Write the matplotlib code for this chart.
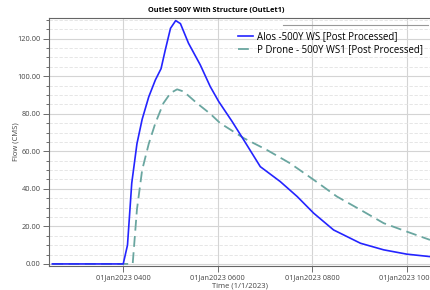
import pandas as pd
import matplotlib
matplotlib.use('Agg')
import matplotlib.pyplot as plt
import matplotlib.dates as mdates
from matplotlib.ticker import MultipleLocator

plt.rcParams['font.family'] = ['Open Sans', 'DejaVu Sans']

# Alos - 500Y WS (hours after midnight, flow CMS)
alos_hours = [2.5, 4.0, 4.09, 4.18, 4.29, 4.40, 4.54, 4.68, 4.80, 4.89, 5.0, 5.11, 5.21,
              5.38, 5.63, 5.84, 6.02, 6.30, 6.55, 6.90, 7.32, 7.68, 8.03, 8.45, 9.02,
              9.51, 10.0, 10.49]
alos_flow = [0, 0, 10, 43, 64, 77, 89, 98, 104, 114, 125.5, 129.6, 128,
             117.6, 106, 94.5, 86.5, 76, 66, 51.8, 43.9, 35.9, 27, 18.1, 11,
             7.5, 5.2, 3.9]

# P Drone - 500Y WS1
drone_hours = [2.5, 4.2, 4.29, 4.40, 4.54, 4.68, 4.85, 5.0, 5.14, 5.28, 5.56, 5.84, 6.05,
               6.55, 7.04, 7.53, 8.03, 8.52, 9.02, 9.51, 10.0, 10.49]
drone_flow = [0, 0, 29, 50, 64, 75, 85.6, 91, 93, 91.8, 85.6, 80, 75,
              67, 60.7, 53.6, 44.8, 35.9, 28.8, 21.7, 17.2, 12.8]

day = pd.Timestamp('2023-01-01')
alos_t = day + pd.to_timedelta(alos_hours, unit='h')
drone_t = day + pd.to_timedelta(drone_hours, unit='h')

fig = plt.figure(figsize=(4.3, 2.9), dpi=100)
ax = fig.add_axes([0.114, 0.083, 0.886, 0.855])

ax.plot(drone_t, drone_flow, color='#6aa6a0', lw=1.3, dashes=(6, 3),
        label='P Drone - 500Y WS1 [Post Processed]')
ax.plot(alos_t, alos_flow, color='#2424ff', lw=1.2,
        label='Alos -500Y WS [Post Processed]')

ax.set_xlim(day + pd.Timedelta(hours=2.43), day + pd.Timedelta(hours=10.49))
ax.set_ylim(-1.07, 131)

ax.xaxis.set_major_locator(mdates.HourLocator(byhour=[4, 6, 8, 10]))
ax.xaxis.set_major_formatter(mdates.DateFormatter('%d%b%Y %H%M'))
ax.yaxis.set_major_locator(MultipleLocator(20))
ax.yaxis.set_minor_locator(MultipleLocator(5))
ax.yaxis.set_major_formatter(lambda v, p: f'{v:.2f}')

ax.grid(True, which='major', color='#d4d4d4', lw=0.8)
ax.grid(True, which='minor', axis='y', color='#e2e2e2', lw=0.6, ls=(0, (4, 2)))
ax.set_axisbelow(True)

ax.tick_params(axis='both', which='major', labelsize=5.3, length=4, width=0.6,
               colors='#555555', labelcolor='#444444', pad=2)
ax.tick_params(axis='y', which='minor', length=2, width=0.6, colors='#555555')
for side in ['left', 'bottom', 'top']:
    ax.spines[side].set_color('#666666')
    ax.spines[side].set_linewidth(0.8)
ax.spines['right'].set_visible(False)

ax.set_title('Outlet 500Y With Structure (OutLet1)', fontsize=5.3, fontweight='bold',
             pad=4, x=0.44)
ax.set_xlabel('Time (1/1/2023)', fontsize=5.5, color='#444444', labelpad=1)
ax.set_ylabel('Flow (CMS)', fontsize=5.5, color='#444444')
ax.yaxis.set_label_coords(-0.078, 0.5)

handles, labels = ax.get_legend_handles_labels()
leg = fig.legend(handles[::-1], labels[::-1], loc='upper right',
                 bbox_to_anchor=(1.0, 0.915), frameon=False, fontsize=6.9,
                 handlelength=1.6, handletextpad=0.4, labelspacing=0.2,
                 borderpad=0.2)
fig.add_artist(plt.Line2D([283 / 430, 428 / 430], [1 - 25 / 290, 1 - 25 / 290],
                          color='#999999', lw=0.8))

fig.savefig('out.png', dpi=100)
